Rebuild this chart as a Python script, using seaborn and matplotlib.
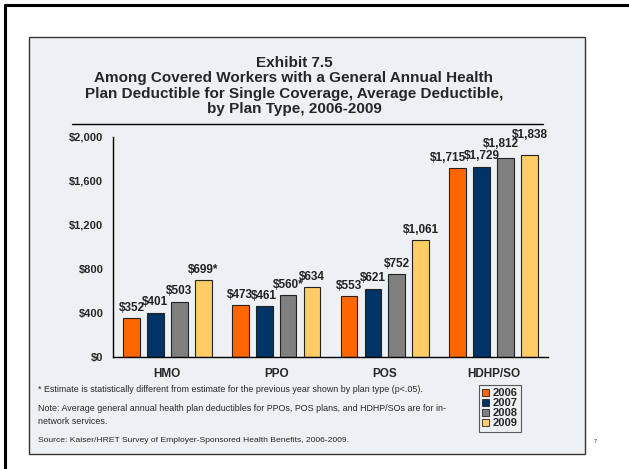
"""
Exhibit 7.5 - average deductible by plan type, 2006-2009
"""
import pandas as pd
import matplotlib.pyplot as plt
import seaborn as sns
from matplotlib.patches import Rectangle

plans = ['HMO', 'PPO', 'POS', 'HDHP/SO']
years = ['2006', '2007', '2008', '2009']
hmo = [352, 401, 503, 699]
ppo = [473, 461, 560, 634]
pos = [553, 621, 752, 1061]
hdhp = [1715, 1729, 1812, 1838]
stars = {('HMO', '2009'), ('PPO', '2008')}
colors = ['#ff6600', '#003366', '#808080', '#ffcc66']
yticks = [0, 400, 800, 1200, 1600, 2000]

rows = []
for plan, vals in zip(plans, [hmo, ppo, pos, hdhp]):
    for yr, v in zip(years, vals):
        rows.append({'plan': plan, 'year': yr, 'value': v})
df = pd.DataFrame(rows)

sns.set_style('white')
plt.rcParams['font.family'] = ['Liberation Sans', 'DejaVu Sans']

W, H = 629, 469
fig = plt.figure(figsize=(W / 100, H / 100), dpi=100)
# outer frame: only top and left edges are visible in the slide
fig.add_artist(plt.Line2D([5/W, 5/W], [0, 1 - 5/H], color='black', linewidth=2.2))
fig.add_artist(plt.Line2D([5/W, 1], [1 - 5/H, 1 - 5/H], color='black', linewidth=2.2))
# grey panel (drawn behind the axes)
fig.patches.append(Rectangle((29/W, 1 - 454/H), 556/W, 417/H, transform=fig.transFigure,
                             facecolor='#eef1f4', edgecolor='#333333', linewidth=1, zorder=-1))

ax = fig.add_axes([113/W, 1 - 357/H, 435/W, 220/H])
ax.set_zorder(2)
ax.set_facecolor('none')
sns.barplot(data=df, x='plan', y='value', hue='year', order=plans, hue_order=years,
            palette=colors, width=0.88, gap=0.3, edgecolor='#222222', linewidth=0.8,
            ax=ax, legend=False, saturation=1)

# the crowded HDHP/SO labels are nudged (dx in x units, dy in $), as on the slide
nudge = {('HDHP/SO', '2006'): (-0.09, 0), ('HDHP/SO', '2008'): (-0.045, 30),
         ('HDHP/SO', '2009'): (0, 85)}
for cont, yr in zip(ax.containers, years):
    for bar, plan in zip(cont, plans):
        v = bar.get_height()
        dx, dy = nudge.get((plan, yr), (0, 0))
        txt = f'${v:,.0f}' + ('*' if (plan, yr) in stars else '')
        ax.text(bar.get_x() + bar.get_width() / 2 + dx, v + 40 + dy, txt,
                ha='center', va='bottom', fontsize=8.5, fontweight='bold', color='#222222')

ax.set_ylim(0, 2000)
ax.set_yticks(yticks)
ax.set_yticklabels([f'${t:,}' for t in yticks], fontsize=8, fontweight='bold')
ax.set_xticks(range(4))
ax.set_xticklabels(plans, fontsize=8.5, fontweight='bold')
ax.tick_params(axis='x', length=0, pad=8)
ax.set_xticks([0.5, 1.5, 2.5], minor=True)
ax.tick_params(axis='x', which='minor', length=4, direction='out', color='black')
ax.tick_params(axis='y', length=3, direction='out', color='black', pad=4)
ax.set_xlim(-0.5, 3.5)
ax.set_xlabel('')
ax.set_ylabel('')
for s in ['top', 'right']:
    ax.spines[s].set_visible(False)
for s in ['left', 'bottom']:
    ax.spines[s].set_color('black')
    ax.spines[s].set_linewidth(1)

# title
fig.text(294/W, 1 - 86/H, 'Exhibit 7.5\nAmong Covered Workers with a General Annual Health\n'
         'Plan Deductible for Single Coverage, Average Deductible,\nby Plan Type, 2006-2009',
         ha='center', va='center', fontsize=11, fontweight='bold', linespacing=1.15)
fig.add_artist(plt.Line2D([72/W, 543/W], [1 - 124/H] * 2, color='black', linewidth=1))

# notes
fig.text(38/W, 1 - 390/H, '* Estimate is statistically different from estimate for the previous year shown by plan type (p<.05).',
         fontsize=6.4, va='center')
fig.text(38/W, 1 - 415/H, 'Note: Average general annual health plan deductibles for PPOs, POS plans, and HDHP/SOs are for in-\nnetwork services.',
         fontsize=6.4, va='center', linespacing=1.45)
fig.text(38/W, 1 - 440/H, 'Source: Kaiser/HRET Survey of Employer-Sponsored Health Benefits, 2006-2009.',
         fontsize=6.1, va='center')
fig.text(594/W, 1 - 441/H, '7', fontsize=4, va='center')

# legend
handles = [Rectangle((0, 0), 1, 1, facecolor=c, edgecolor='#222222', linewidth=0.6) for c in colors]
leg = fig.legend(handles, years, loc='upper left', bbox_to_anchor=(479/W, 1 - 385/H),
                 frameon=True, handlelength=0.6, handleheight=0.6, borderaxespad=0,
                 handletextpad=0.3, labelspacing=0.0, borderpad=0.3, fancybox=False,
                 prop={'weight': 'bold', 'size': 8})
leg.get_frame().set_edgecolor('#333333')
leg.get_frame().set_facecolor('#eef1f4')
leg.get_frame().set_linewidth(0.8)

fig.savefig('out.png', dpi=100)
plt.close(fig)
